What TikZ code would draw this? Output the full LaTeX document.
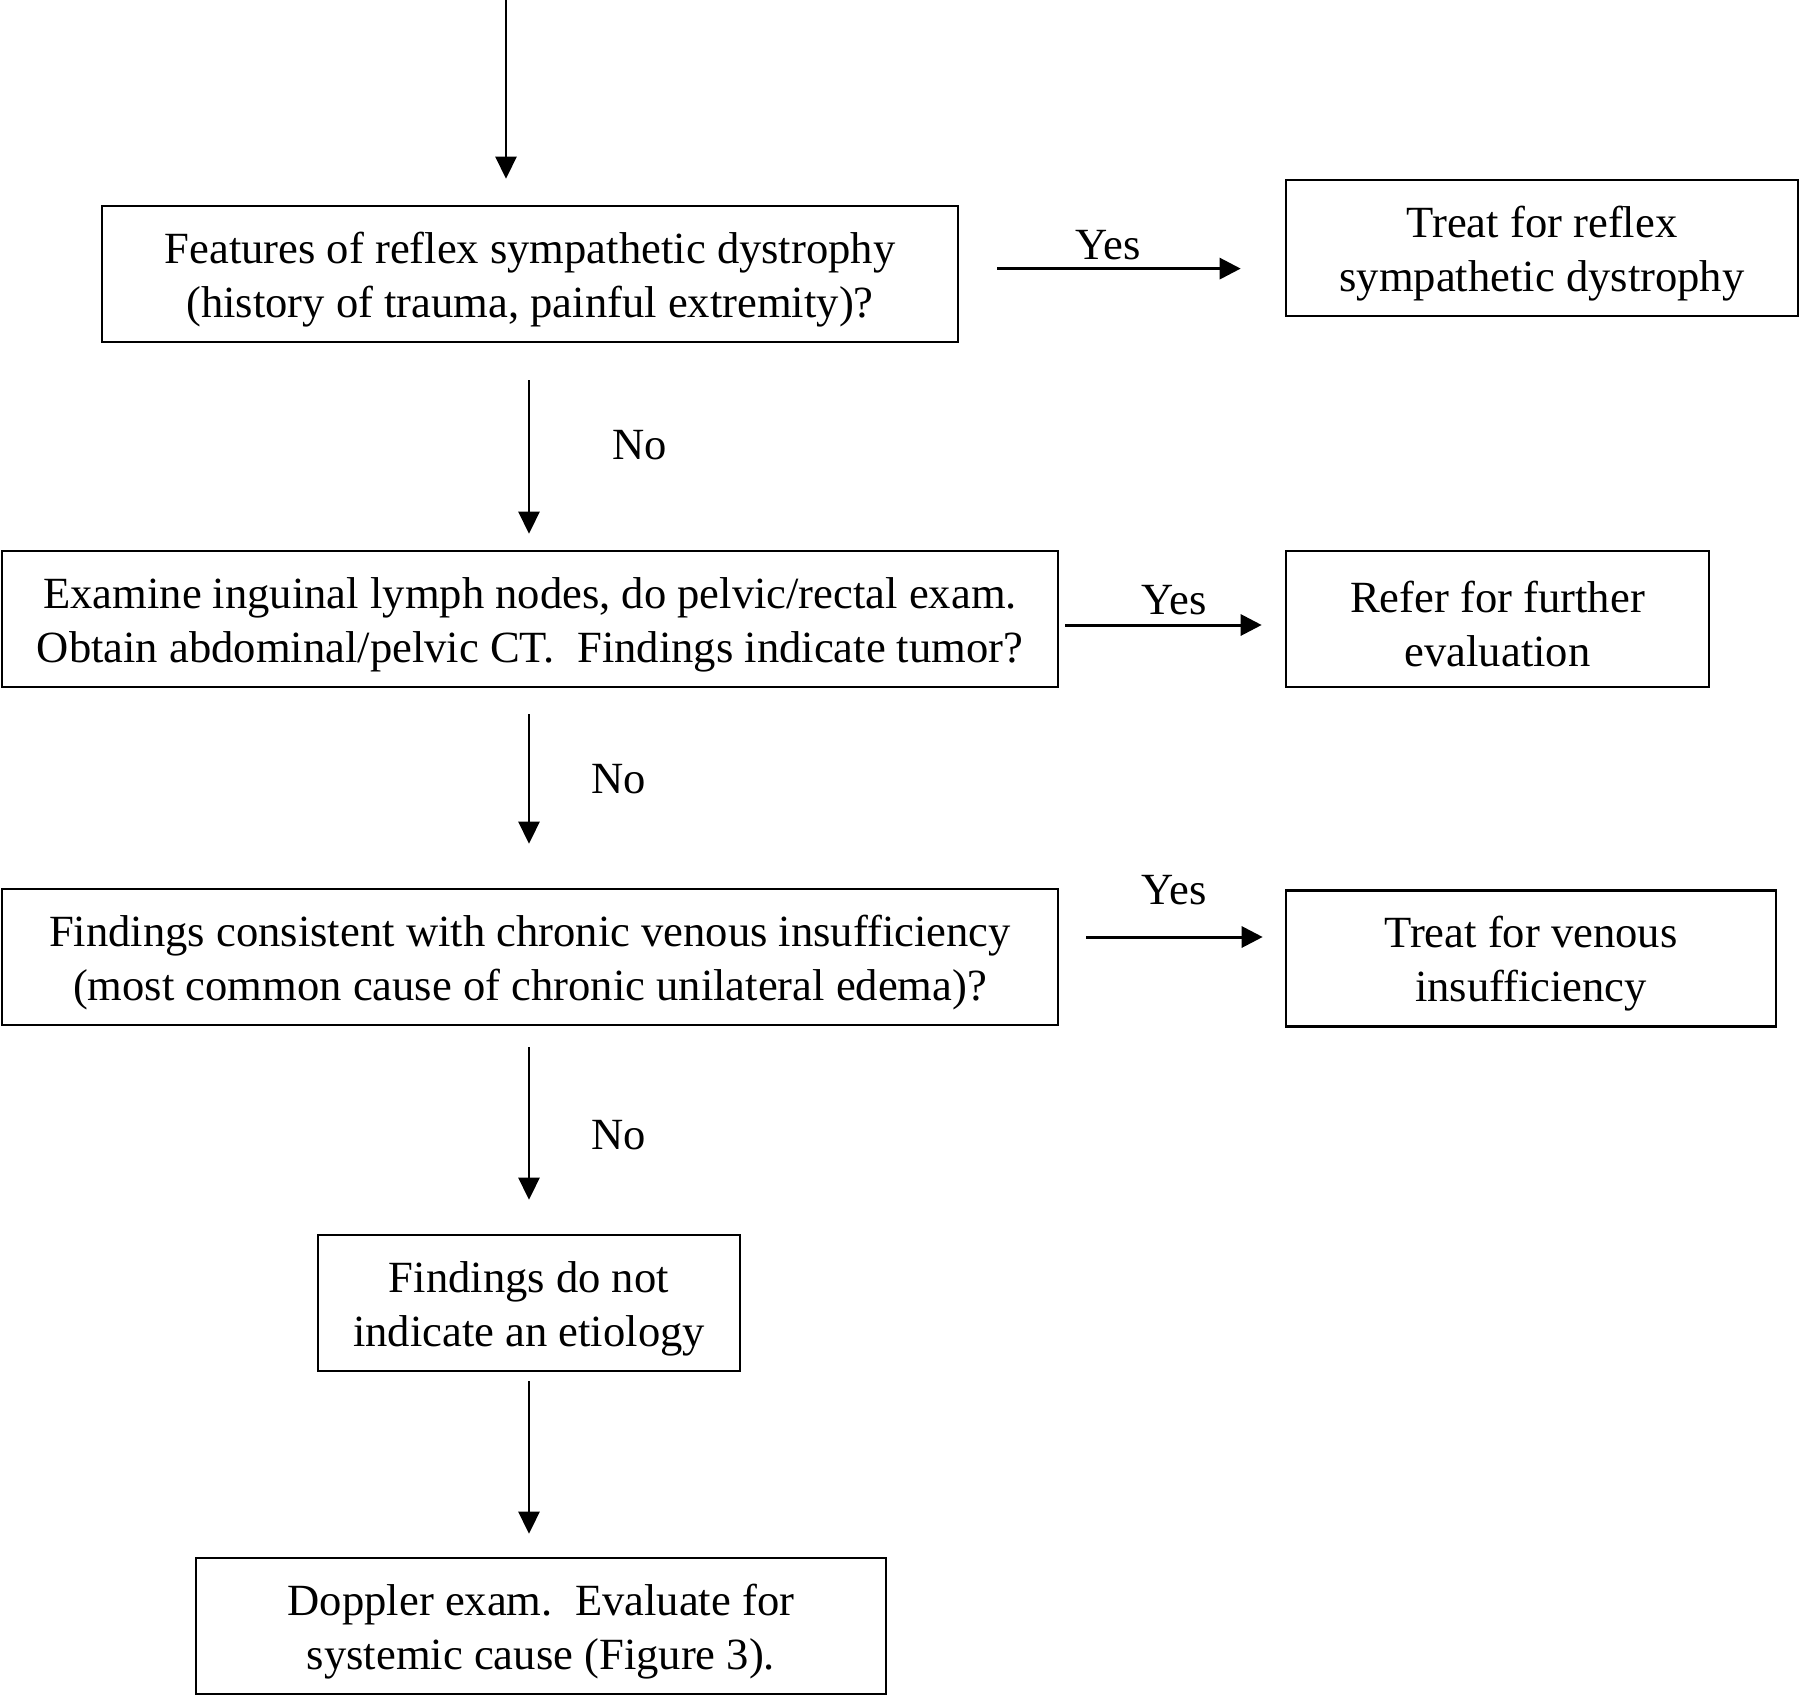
\documentclass[tikz,border=0pt]{standalone}
\usepackage{fontspec}
\setmainfont{Liberation Serif}
\usetikzlibrary{arrows.meta}
\newcommand\toppad{\rule{0pt}{21pt}}
\begin{document}
\begin{tikzpicture}[x=0.5pt,y=-0.5pt,
  txt/.style={font=\fontsize{22.3}{27}\selectfont},
  box/.style={draw,line width=1.3pt,align=center,inner sep=0pt,txt,minimum height=68pt},
  lab/.style={txt,inner sep=0pt,anchor=base},
  darr/.style={line width=1.3pt,-{Triangle[length=11pt,width=10.5pt]}},
  yarr/.style={line width=1.5pt,-{Triangle[length=10.5pt,width=10.5pt]}}]
\useasboundingbox (0,0) rectangle (1800,1697);
% boxes
\node[box,minimum width=428pt] (b1) at (530,274) {\toppad Features of reflex sympathetic dystrophy\\(history of trauma, painful extremity)?};
\node[box,minimum width=256pt] (r1) at (1542,248) {\toppad Treat for reflex\\sympathetic dystrophy};
\node[box,minimum width=528pt] (b2) at (530,619) {\toppad Examine inguinal lymph nodes, do pelvic/rectal exam.\\Obtain abdominal/pelvic CT.\ \ Findings indicate tumor?};
\node[box,minimum width=211.5pt] (r2) at (1497.5,619) {\toppad Refer for further\\evaluation};
\node[box,minimum width=528pt] (b3) at (530,957) {\toppad Findings consistent with chronic venous insufficiency\\(most common cause of chronic unilateral edema)?};
\node[box,minimum width=245pt] (r3) at (1531,958.5) {\toppad Treat for venous\\insufficiency};
\node[box,minimum width=211pt] (b4) at (529,1303) {\toppad Findings do not\\indicate an etiology};
\node[box,minimum width=345pt] (b5) at (541,1626) {\toppad Doppler exam.\ \ Evaluate for\\systemic cause (Figure 3).};
% labels
\node[lab] (y1) at (1108,259) {Yes};
\node[lab] (y2) at (1174,614) {Yes};
\node[lab] (y3) at (1174,904) {Yes};
\node[lab] (n1) at (640,459) {No};
\node[lab] (n2) at (619,793) {No};
\node[lab] (n3) at (619,1149) {No};
% helper coordinates
\coordinate (start) at (506,0);
\coordinate (h1) at (0,268.6);
\coordinate (h2) at (0,625);
\coordinate (h3) at (0,937);
% vertical arrows
\draw[darr,shorten >=13pt] (start) -- (start |- b1.north);
\draw[darr,shorten <=18.5pt,shorten >=8pt] (b1.south -| 529,0) -- (b2.north -| 529,0);
\draw[darr,shorten <=13pt,shorten >=22pt] (b2.south -| 529,0) -- (b3.north -| 529,0);
\draw[darr,shorten <=10.5pt,shorten >=17pt] (b3.south -| 529,0) -- (b4.north -| 529,0);
\draw[darr,shorten <=4.5pt,shorten >=11.5pt] (b4.south -| 529,0) -- (b5.north -| 529,0);
% yes arrows
\draw[yarr,shorten <=19pt,shorten >=22pt] (b1.east |- h1) -- (r1.west |- h1);
\draw[yarr,shorten <=3pt,shorten >=11.5pt] (b2.east |- h2) -- (r2.west |- h2);
\draw[yarr,shorten <=13.5pt,shorten >=11pt] (b3.east |- h3) -- (r3.west |- h3);
\end{tikzpicture}
\end{document}
